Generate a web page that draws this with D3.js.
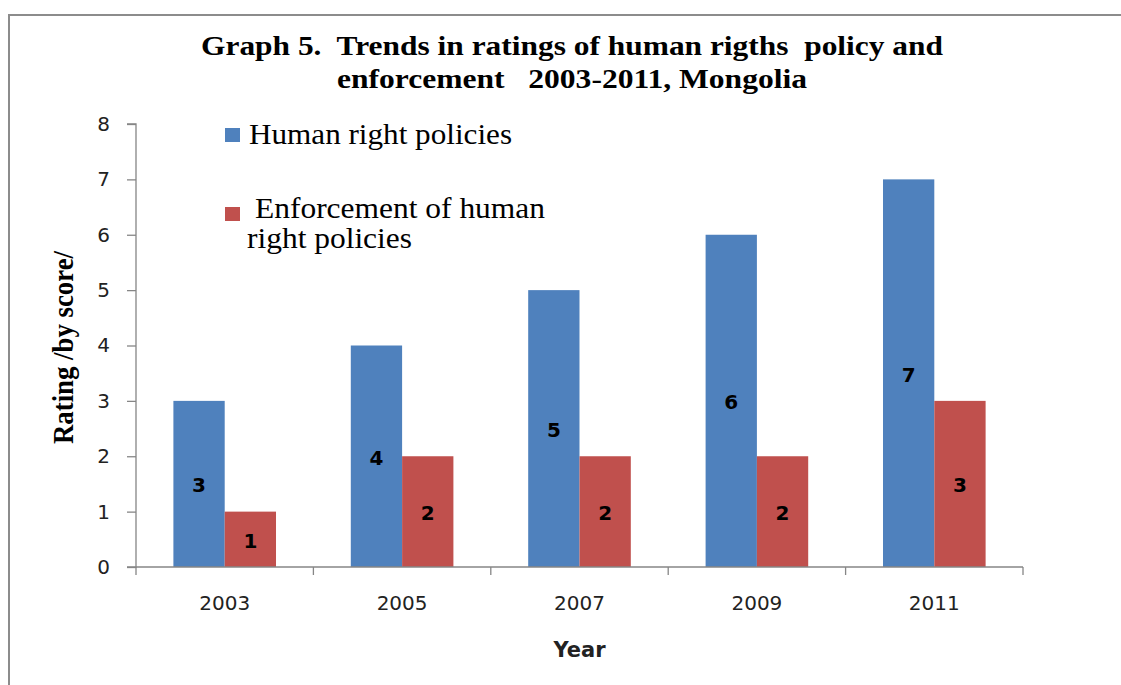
<!DOCTYPE html>
<html>
<head>
<meta charset="utf-8">
<script src="https://cdn.jsdelivr.net/npm/d3@7"></script>
<style>
  html, body { margin: 0; padding: 0; background: #fff; }
  svg { display: block; }
</style>
</head>
<body>
<svg id="chart" width="1121" height="685"></svg>
<script>
const years = ["2003", "2005", "2007", "2009", "2011"];
const seriesNames = ["Human right policies", "Enforcement of human right policies"];
const policies = [3, 4, 5, 6, 7];
const enforcement = [1, 2, 2, 2, 3];
const yTicks = [0, 1, 2, 3, 4, 5, 6, 7, 8];
const titleLines = ["Graph 5.  Trends in ratings of human rigths  policy and", "enforcement   2003-2011, Mongolia"];
const yTitle = "Rating /by score/";
const xTitle = "Year";
const colors = ["#4F81BD", "#C0504D"];

const svg = d3.select("#chart");
const W = 1121, H = 685;
const plot = { left: 136, right: 1023, top: 124, bottom: 567 };

// outer frame (top and left edges visible)
svg.append("path")
  .attr("d", `M9,${H} L9,15 L${W},15`)
  .attr("fill", "none")
  .attr("stroke", "#8c8c8c")
  .attr("stroke-width", 2);

// title
const title = svg.append("g");
const titleWidths = [742, 470];
titleLines.forEach((t, i) => {
  title.append("text")
    .attr("x", 572)
    .attr("y", 55 + i * 33)
    .attr("text-anchor", "middle")
    .attr("font-family", "'Liberation Serif', 'Times New Roman', serif")
    .attr("font-weight", "bold")
    .attr("font-size", 28)
    .attr("fill", "#000")
    .attr("xml:space", "preserve")
    .style("white-space", "pre")
    .attr("textLength", titleWidths[i])
    .attr("lengthAdjust", "spacingAndGlyphs")
    .text(t);
});

// scales
const x0 = d3.scaleBand()
  .domain(years)
  .range([plot.left, plot.right])
  .paddingInner(0.4216)
  .paddingOuter(0.2108);
const x1 = d3.scaleBand()
  .domain([0, 1])
  .range([0, x0.bandwidth()]);
const y = d3.scaleLinear()
  .domain([0, 8])
  .range([plot.bottom, plot.top]);

// bars
const rows = years.map((yr, i) => ({ year: yr, values: [policies[i], enforcement[i]] }));
const groups = svg.append("g").selectAll("g")
  .data(rows).join("g")
  .attr("transform", d => `translate(${x0(d.year)},0)`);

groups.selectAll("rect")
  .data(d => d.values.map((v, s) => ({ v, s })))
  .join("rect")
  .attr("x", d => x1(d.s))
  .attr("y", d => y(d.v))
  .attr("width", x1.bandwidth())
  .attr("height", d => y(0) - y(d.v))
  .attr("fill", d => colors[d.s]);

groups.selectAll("text")
  .data(d => d.values.map((v, s) => ({ v, s })))
  .join("text")
  .attr("x", d => x1(d.s) + x1.bandwidth() / 2)
  .attr("y", d => (y(d.v) + y(0)) / 2)
  .attr("dy", "0.42em")
  .attr("text-anchor", "middle")
  .attr("font-family", "'DejaVu Sans', Verdana, sans-serif")
  .attr("font-weight", "bold")
  .attr("font-size", 20)
  .attr("fill", "#000")
  .text(d => d.v);

// y axis
const yAxis = d3.axisLeft(y).tickValues(yTicks).tickSize(9).tickPadding(17).tickFormat(d3.format("d"));
const gy = svg.append("g")
  .attr("transform", `translate(${plot.left},0)`)
  .call(yAxis);
gy.select(".domain").attr("stroke", "#868686").attr("stroke-width", 1.3).attr("d", `M-9,${plot.top}H0V${plot.bottom}H-9`);
gy.selectAll(".tick line").attr("stroke", "#868686").attr("stroke-width", 1.3);
gy.selectAll(".tick text")
  .attr("font-family", "'DejaVu Sans', Verdana, sans-serif")
  .attr("font-size", 20)
  .attr("fill", "#222");

// x axis
const xAxis = d3.axisBottom(x0).tickSize(0).tickPadding(29);
const gx = svg.append("g")
  .attr("transform", `translate(0,${plot.bottom})`)
  .call(xAxis);
gx.select(".domain").attr("stroke", "#868686").attr("stroke-width", 1.3).attr("d", `M${plot.left},0H${plot.right}`);
gx.selectAll(".tick text")
  .attr("font-family", "'DejaVu Sans', Verdana, sans-serif")
  .attr("font-size", 20)
  .attr("fill", "#222");
// category separator ticks
const sepPositions = years.map(yr => x0(yr) - x0.step() * x0.paddingOuter()).concat([plot.right]);
gx.append("g").selectAll("line")
  .data(sepPositions).join("line")
  .attr("x1", d => d).attr("x2", d => d)
  .attr("y1", 0).attr("y2", 8)
  .attr("stroke", "#868686").attr("stroke-width", 1.3);

// axis titles
svg.append("text")
  .attr("transform", `translate(73,${(plot.top + plot.bottom) / 2 + 2}) rotate(-90)`)
  .attr("text-anchor", "middle")
  .attr("font-family", "'Liberation Serif', 'Times New Roman', serif")
  .attr("font-weight", "bold")
  .attr("font-size", 29)
  .attr("textLength", 193)
  .attr("lengthAdjust", "spacingAndGlyphs")
  .attr("fill", "#000")
  .text(yTitle);

svg.append("text")
  .attr("x", (plot.left + plot.right) / 2)
  .attr("y", 657)
  .attr("text-anchor", "middle")
  .attr("font-family", "'DejaVu Sans', Verdana, sans-serif")
  .attr("font-weight", "bold")
  .attr("font-size", 21)
  .attr("fill", "#222")
  .text(xTitle);

// legend
const legend = svg.append("g");
const serif = "'Liberation Serif', 'Times New Roman', serif";
legend.append("rect").attr("x", 225).attr("y", 128).attr("width", 15).attr("height", 14).attr("fill", colors[0]);
legend.append("text")
  .attr("x", 249).attr("y", 144)
  .attr("font-family", serif).attr("font-size", 29)
  .attr("textLength", 263).attr("lengthAdjust", "spacingAndGlyphs")
  .text(seriesNames[0]);
legend.append("rect").attr("x", 225).attr("y", 207).attr("width", 15).attr("height", 14).attr("fill", colors[1]);
legend.append("text")
  .attr("x", 255).attr("y", 218)
  .attr("font-family", serif).attr("font-size", 29)
  .attr("textLength", 290).attr("lengthAdjust", "spacingAndGlyphs")
  .text("Enforcement of human");
legend.append("text")
  .attr("x", 247).attr("y", 248)
  .attr("font-family", serif).attr("font-size", 29)
  .attr("textLength", 165).attr("lengthAdjust", "spacingAndGlyphs")
  .text("right policies");
</script>
</body>
</html>
